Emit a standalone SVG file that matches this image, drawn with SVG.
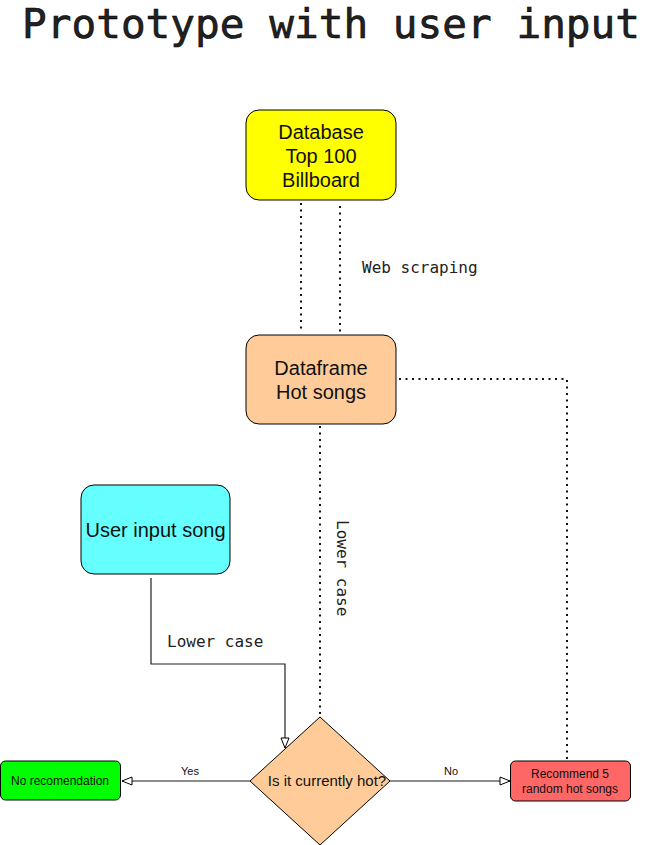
<svg xmlns="http://www.w3.org/2000/svg" width="651" height="845" viewBox="0 0 651 845">
<style>
.box{stroke:#000;stroke-width:1}
.lbl{font-family:"Liberation Sans",Arial,sans-serif;text-anchor:middle;fill:#111}
.mono{font-family:"DejaVu Sans Mono","Liberation Mono",monospace;fill:#222}
.dot{fill:none;stroke:#111;stroke-width:2;stroke-dasharray:2 4.5}
.solid{fill:none;stroke:#666;stroke-width:1.3}
</style>
<defs>
<marker id="arr" viewBox="0 0 12 10" refX="11" refY="5" markerWidth="12" markerHeight="10" markerUnits="userSpaceOnUse" orient="auto">
<path d="M1,1 L11,5 L1,9 Z" fill="#fff" stroke="#000" stroke-width="1"/>
</marker>
</defs>
<rect width="651" height="845" fill="#fff"/>
<text x="22" y="38" class="mono" font-size="41" fill="#000" stroke="#000" stroke-width="0.6" textLength="618">Prototype with user input</text>

<g id="connectors">
<path class="dot" d="M301,203 V333"/>
<path class="dot" d="M340,206 V333"/>
<text x="362" y="273" class="mono" font-size="16">Web scraping</text>
<path class="dot" d="M399,379 H567 V759"/>
<path class="dot" d="M320,426 V716"/>
<text transform="translate(337,520) rotate(90)" class="mono" font-size="16">Lower case</text>
<path d="M151,578 V664 H285 V748" fill="none" stroke="#222" stroke-width="1.2" marker-end="url(#arr)"/>
<text x="167" y="647" class="mono" font-size="16">Lower case</text>
<path class="solid" d="M250,781 H122" marker-end="url(#arr)"/>
<text x="190" y="775" class="lbl" font-size="11">Yes</text>
<path class="solid" d="M390,781 H510" marker-end="url(#arr)"/>
<text x="451" y="775" class="lbl" font-size="11">No</text>
</g>

<g id="database">
<rect x="246" y="110" width="150" height="90" rx="13" fill="#ffff00" class="box"/>
<text class="lbl" font-size="20" x="321" y="139">Database</text>
<text class="lbl" font-size="20" x="321" y="163">Top 100</text>
<text class="lbl" font-size="20" x="321" y="187">Billboard</text>
</g>

<g id="dataframe">
<rect x="246" y="335" width="150" height="89" rx="13" fill="#ffcc99" class="box"/>
<text class="lbl" font-size="20" x="321" y="375">Dataframe</text>
<text class="lbl" font-size="20" x="321" y="399">Hot songs</text>
</g>

<g id="userinput">
<rect x="81" y="485" width="149" height="89" rx="13" fill="#66ffff" class="box"/>
<text class="lbl" font-size="20" x="155.5" y="537">User input song</text>
</g>

<g id="decision">
<path d="M320,717 L390,781 L320,845 L250,781 Z" fill="#ffcc99" class="box"/>
<text class="lbl" font-size="15" x="327" y="786" fill="#333">Is it currently hot?</text>
</g>

<g id="norec">
<rect x="0.5" y="761" width="120" height="39" rx="5" fill="#00ff00" class="box"/>
<text class="lbl" font-size="12" x="60" y="785" fill="#003300">No recomendation</text>
</g>

<g id="recommend">
<rect x="510.5" y="761" width="120" height="40" rx="5" fill="#ff6666" class="box"/>
<text class="lbl" font-size="12" x="570" y="778" fill="#330000">Recommend 5</text>
<text class="lbl" font-size="12" x="570" y="793" fill="#330000">random hot songs</text>
</g>
</svg>
